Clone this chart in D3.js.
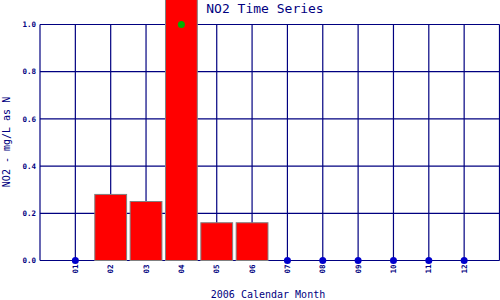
<!DOCTYPE html>
<html>
<head>
<meta charset="utf-8">
<script src="https://cdn.jsdelivr.net/npm/d3@7"></script>
<style>
  body { margin: 0; background: #fff; }
  text { font-family: "DejaVu Sans Mono", monospace; fill: #000080; }
</style>
</head>
<body>
<script>
const months = ['01', '02', '03', '04', '05', '06', '07', '08', '09', '10', '11', '12'];
// NO2 values per month, null = no bar (plotted as a dot at zero)
const no2 = [null, 0.28, 0.25, 1.2, 0.16, 0.16, null, null, null, null, null, null];
// green marker
const markerMonth = ['04'];
const markerValue = [1.0];
const yTicks = [0, 0.2, 0.4, 0.6, 0.8, 1.0];

const margin = { top: 24, right: 0, bottom: 40, left: 40 };
const W = 500, H = 300;

const svg = d3.select('body').append('svg')
    .attr('width', W)
    .attr('height', H);

const x = d3.scaleLinear().domain([0, 13]).range([margin.left, W - margin.right - 0.5]);
const y = d3.scaleLinear().domain([0, 1]).range([H - margin.bottom + 0.5, margin.top + 0.5]);
const step = x(1) - x(0);

const grid = svg.append('g')
    .attr('stroke', '#000080')
    .attr('stroke-width', 1.2);

// horizontal grid
grid.selectAll('.hline')
    .data(yTicks)
    .join('line')
    .attr('x1', x(0)).attr('x2', x(13))
    .attr('y1', d => y(d)).attr('y2', d => y(d));

// vertical grid
grid.selectAll('.vline')
    .data(months)
    .join('line')
    .attr('x1', (d, i) => x(i + 1)).attr('x2', (d, i) => x(i + 1))
    .attr('y1', y(1)).attr('y2', y(0));

grid.append('line').attr('x1', x(0)).attr('x2', x(0)).attr('y1', y(1)).attr('y2', y(0));
grid.append('line').attr('x1', x(13)).attr('x2', x(13)).attr('y1', y(1)).attr('y2', y(0));

// bars
const bars = months.map((m, i) => ({ m: m, i: i, v: no2[i] }));
svg.selectAll('.bar')
    .data(bars.filter(d => d.v !== null))
    .join('rect')
    .attr('class', 'bar')
    .attr('x', d => x(d.i + 1) - step * 0.45)
    .attr('width', step * 0.9)
    .attr('y', d => y(d.v))
    .attr('height', d => y(0) - y(d.v))
    .attr('fill', '#ff0000')
    .attr('stroke', '#808080')
    .attr('stroke-width', 1);

// dots for months without values
svg.selectAll('.dot')
    .data(bars.filter(d => d.v === null))
    .join('circle')
    .attr('cx', d => x(d.i + 1))
    .attr('cy', y(0))
    .attr('r', 3.5)
    .attr('fill', '#0000cc');

// green marker
svg.selectAll('.marker')
    .data(markerMonth)
    .join('circle')
    .attr('cx', d => x(months.indexOf(d) + 1))
    .attr('cy', (d, i) => y(markerValue[i]))
    .attr('r', 3.5)
    .attr('fill', '#00b000');

// y tick labels
svg.selectAll('.ylab')
    .data(yTicks)
    .join('text')
    .attr('x', 36)
    .attr('y', d => y(d))
    .attr('dy', '0.35em')
    .attr('text-anchor', 'end')
    .style('font-size', '7.5px')
    .style('font-weight', 'bold')
    .text(d => d.toFixed(1));

// x tick labels
svg.selectAll('.xlab')
    .data(months)
    .join('text')
    .attr('transform', (d, i) => 'translate(' + (x(i + 1) + 2.5) + ',' + (y(0) + 4) + ') rotate(-90)')
    .attr('text-anchor', 'end')
    .style('font-size', '7.5px')
    .style('font-weight', 'bold')
    .text(d => d);

svg.append('text')
    .attr('x', 265)
    .attr('y', 13)
    .attr('text-anchor', 'middle')
    .style('font-size', '13px')
    .text('NO2 Time Series');

svg.append('text')
    .attr('x', 268)
    .attr('y', 298)
    .attr('text-anchor', 'middle')
    .style('font-size', '10px')
    .text('2006 Calendar Month');

svg.append('text')
    .attr('transform', 'translate(10,142) rotate(-90)')
    .attr('text-anchor', 'middle')
    .style('font-size', '10px')
    .text('NO2 - mg/L as N');
</script>
</body>
</html>
